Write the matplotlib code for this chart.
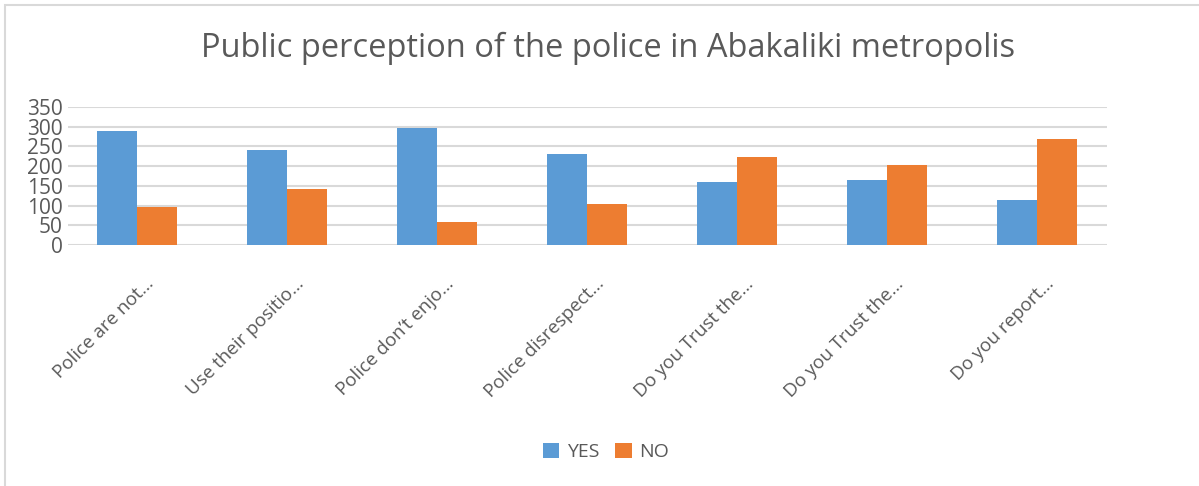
import numpy as np
import matplotlib.pyplot as plt
import matplotlib.transforms as mtransforms
from matplotlib.patches import Rectangle

# Data.
categories = ['Police are not…', 'Use their positio…', 'Police don\u2019t enjo…',
              'Police disrespect…', 'Do you Trust the…', 'Do you Trust the…',
              'Do you report…']
yes_values = [289, 241, 297, 230, 160, 164, 113]
no_values = [97, 143, 59, 105, 224, 203, 270]
y_ticks = [0, 50, 100, 150, 200, 250, 300, 350]

plt.rcParams['font.family'] = ['Open Sans', 'DejaVu Sans']
text_color = '#595959'

fig = plt.figure(figsize=(11.99, 4.86), dpi=100)
ax = fig.add_axes([68 / 1199, 1 - 245 / 486, (1107 - 68) / 1199, (245 - 107) / 486])

x = np.arange(len(categories))
w = 0.264
ax.bar(x - w / 2, yes_values, w, color='#5B9BD5', label='YES', zorder=3)
ax.bar(x + w / 2, no_values, w, color='#ED7D31', label='NO', zorder=3)

ax.set_xlim(-0.46, 6.467)
ax.set_ylim(0, 350)
ax.set_yticks(y_ticks)
ax.yaxis.grid(True, color='#D9D9D9', linewidth=1.5, zorder=0)
for s in ax.spines.values():
    s.set_visible(False)
ax.tick_params(axis='y', length=0, labelsize=15, labelcolor=text_color, pad=4)
ax.tick_params(axis='x', length=0)
ax.set_xticks(x)
ax.set_xticklabels([])

# Rotated category labels, right end near each group centre.
offset = mtransforms.ScaledTranslation(14 / 100, -36 / 100, fig.dpi_scale_trans)
for xi, lab in zip(x, categories):
    ax.text(xi, 0, lab, rotation=45, ha='right', va='center',
            rotation_mode='anchor', fontsize=13.5, color=text_color,
            transform=ax.get_xaxis_transform() + offset)

fig.text(608 / 1199, 1 - 48 / 486, 'Public perception of the police in Abakaliki metropolis',
         ha='center', va='center', fontsize=23.5, color=text_color)

fig.legend(loc='center', bbox_to_anchor=(606 / 1199, 1 - 452 / 486), ncol=2,
           frameon=False, fontsize=14, handlelength=0.85, handleheight=0.85,
           handletextpad=0.4, columnspacing=0.8, labelcolor=text_color)

# Light chart-area border (left and top edges visible in the reference).
fig.patches.append(Rectangle((5 / 1199, -0.1), 1.2, 1 - 5 / 486 + 0.1,
                             transform=fig.transFigure, fill=False,
                             edgecolor='#D9D9D9', linewidth=1.5))

fig.savefig('out.png', dpi=100)
